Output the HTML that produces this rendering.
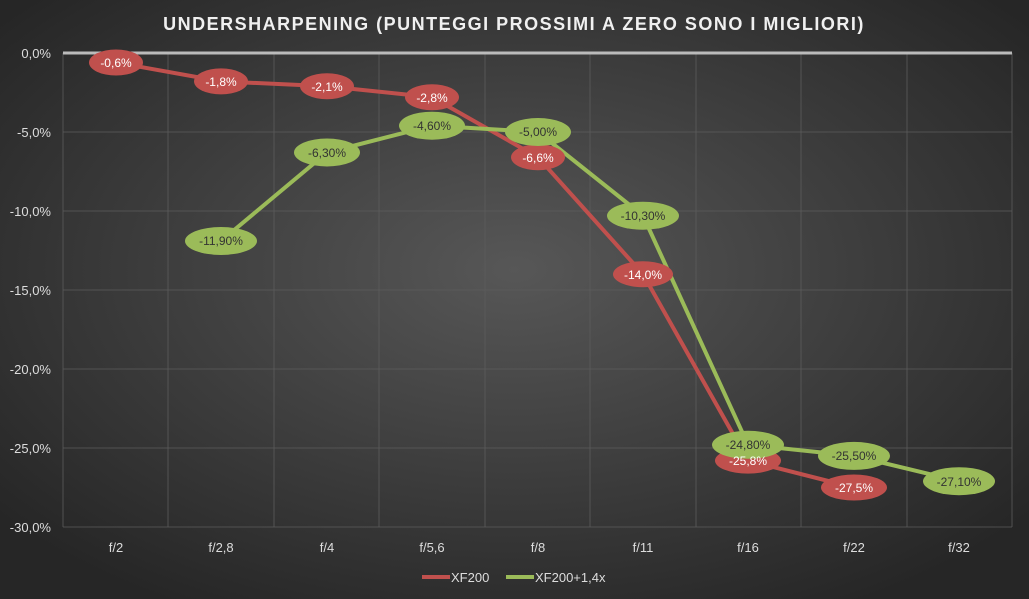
<!DOCTYPE html>
<html><head><style>html,body{margin:0;padding:0;background:#262626;width:1029px;height:599px;overflow:hidden}svg{display:block}</style></head><body>
<svg width="1029" height="599" xmlns="http://www.w3.org/2000/svg" font-family="Liberation Sans, sans-serif">
<defs><radialGradient id="bg" cx="50%" cy="45%" r="65%"><stop offset="0" stop-color="#575757"/><stop offset="1" stop-color="#262626"/></radialGradient></defs>
<rect width="1029" height="599" fill="url(#bg)"/>
<text x="514" y="30" text-anchor="middle" font-size="18" font-weight="bold" fill="#f0f0f0" letter-spacing="1.5">UNDERSHARPENING  (PUNTEGGI  PROSSIMI  A ZERO SONO  I MIGLIORI)</text>
<g stroke="#5c5c5c" stroke-width="0.8">
<line x1="63" y1="132" x2="1012" y2="132"/><line x1="63" y1="211" x2="1012" y2="211"/><line x1="63" y1="290" x2="1012" y2="290"/><line x1="63" y1="369" x2="1012" y2="369"/><line x1="63" y1="448" x2="1012" y2="448"/><line x1="63" y1="527" x2="1012" y2="527"/>
<line x1="63" y1="53" x2="63" y2="527"/><line x1="168" y1="53" x2="168" y2="527"/><line x1="274" y1="53" x2="274" y2="527"/><line x1="379" y1="53" x2="379" y2="527"/><line x1="485" y1="53" x2="485" y2="527"/><line x1="590" y1="53" x2="590" y2="527"/><line x1="696" y1="53" x2="696" y2="527"/><line x1="801" y1="53" x2="801" y2="527"/><line x1="907" y1="53" x2="907" y2="527"/><line x1="1012" y1="53" x2="1012" y2="527"/>
</g>
<line x1="63" y1="53" x2="1012" y2="53" stroke="#bbb" stroke-width="3"/>
<g font-size="13" fill="#ddd" text-anchor="end">
<text x="51" y="58">0,0%</text><text x="51" y="137">-5,0%</text><text x="51" y="216">-10,0%</text><text x="51" y="295">-15,0%</text><text x="51" y="374">-20,0%</text><text x="51" y="453">-25,0%</text><text x="51" y="532">-30,0%</text>
</g>
<g font-size="13" fill="#ddd" text-anchor="middle">
<text x="116" y="552">f/2</text><text x="221" y="552">f/2,8</text><text x="327" y="552">f/4</text><text x="432" y="552">f/5,6</text><text x="538" y="552">f/8</text><text x="643" y="552">f/11</text><text x="748" y="552">f/16</text><text x="854" y="552">f/22</text><text x="959" y="552">f/32</text>
</g>
<polyline fill="none" stroke="#c0504d" stroke-width="4" points="116,62.5 221,81.4 327,86.2 432,97.2 538,157.3 643,274.2 748,460.6 854,487.5"/>
<polyline fill="none" stroke="#9bbb59" stroke-width="4" points="221,241 327,152.5 432,125.7 538,132 643,215.7 748,444.8 854,455.9 959,481.2"/>
<g fill="#c0504d"><ellipse cx="116" cy="62.5" rx="27" ry="13"/><ellipse cx="221" cy="81.4" rx="27" ry="13"/><ellipse cx="327" cy="86.2" rx="27" ry="13"/><ellipse cx="432" cy="97.2" rx="27" ry="13"/><ellipse cx="538" cy="157.3" rx="27" ry="13"/><ellipse cx="643" cy="274.2" rx="30" ry="13"/><ellipse cx="748" cy="460.6" rx="33" ry="13"/><ellipse cx="854" cy="487.5" rx="33" ry="13"/></g>
<g fill="#9bbb59"><ellipse cx="221" cy="241" rx="36" ry="14"/><ellipse cx="327" cy="152.5" rx="33" ry="14"/><ellipse cx="432" cy="125.7" rx="33" ry="14"/><ellipse cx="538" cy="132" rx="33" ry="14"/><ellipse cx="643" cy="215.7" rx="36" ry="14"/><ellipse cx="748" cy="444.8" rx="36" ry="14"/><ellipse cx="854" cy="455.9" rx="36" ry="14"/><ellipse cx="959" cy="481.2" rx="36" ry="14"/></g>
<g font-size="12" fill="#fff" text-anchor="middle">
<text x="116" y="67">-0,6%</text><text x="221" y="86">-1,8%</text><text x="327" y="91">-2,1%</text><text x="432" y="102">-2,8%</text><text x="538" y="162">-6,6%</text><text x="643" y="279">-14,0%</text><text x="748" y="465">-25,8%</text><text x="854" y="492">-27,5%</text>
</g>
<g font-size="12" fill="#333" text-anchor="middle">
<text x="221" y="245">-11,90%</text><text x="327" y="157">-6,30%</text><text x="432" y="130">-4,60%</text><text x="538" y="136">-5,00%</text><text x="643" y="220">-10,30%</text><text x="748" y="449">-24,80%</text><text x="854" y="460">-25,50%</text><text x="959" y="486">-27,10%</text>
</g>
<line x1="422" y1="577" x2="450" y2="577" stroke="#c0504d" stroke-width="4"/>
<text x="451" y="582" font-size="13" fill="#ddd">XF200</text>
<line x1="506" y1="577" x2="534" y2="577" stroke="#9bbb59" stroke-width="4"/>
<text x="535" y="582" font-size="13" fill="#ddd">XF200+1,4x</text>
</svg>
</body></html>
